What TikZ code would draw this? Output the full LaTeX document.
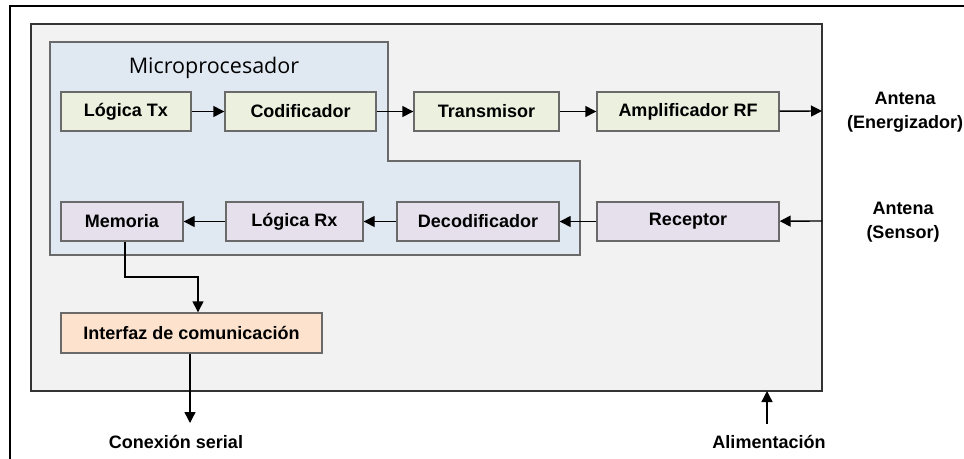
\documentclass[tikz,border=0pt]{standalone}
\usepackage{fontspec}
\setmainfont{Liberation Sans}
\newfontfamily\titlefont{Open Sans}
\usetikzlibrary{arrows.meta}
\definecolor{grayfill}{HTML}{F2F2F2}
\definecolor{bluefill}{HTML}{E0E8F2}
\definecolor{greenfill}{HTML}{EBF1DE}
\definecolor{purplefill}{HTML}{E5E0EC}
\definecolor{peachfill}{HTML}{FDE3CE}
\definecolor{edgegray}{HTML}{6A6A6A}
\tikzset{
  blk/.style={draw=edgegray, line width=1.4pt, minimum height=39pt, inner sep=0pt, font=\fontsize{18}{20}\selectfont\bfseries, text=black},
  txblk/.style={blk, fill=greenfill},
  rxblk/.style={blk, fill=purplefill},
  ifblk/.style={blk, fill=peachfill},
  conn/.style={line width=1.4pt, -{Triangle[length=11pt,width=11pt]}},
  lbl/.style={font=\fontsize{18}{24}\selectfont\bfseries, align=center, inner sep=0pt},
}
\begin{document}
\begin{tikzpicture}[x=1pt,y=-1pt]
\useasboundingbox (0,0) rectangle (964,458);
% outer frame (cropped)
\draw[line width=2.2pt] (10,470) -- (10,6) -- (980,6);
% gray module box
\draw[fill=grayfill, draw=black!80, line width=1.7pt] (31,24) rectangle (822,391);
\coordinate (gR1) at (822,111);
\coordinate (gR2) at (822,221);
\coordinate (gB) at (767,391);
% microprocessor region
\draw[fill=bluefill, draw=edgegray, line width=1.4pt] (50,42) -- (388,42) -- (388,161) -- (580,161) -- (580,255) -- (50,255) -- cycle;
\node[font=\titlefont\fontsize{21.5}{24}\selectfont, inner sep=0pt] (mp) at (214,68) {Microprocesador};
% row 1
\node[txblk, minimum width=130pt] (ltx) at (126,111.5) {Lógica Tx};
\node[txblk, minimum width=151pt] (cod) at (300.5,111.5) {Codificador};
\node[txblk, minimum width=145pt] (tra) at (486.5,111.5) {Transmisor};
\node[txblk, minimum width=182pt] (amp) at (688,111.5) {Amplificador RF};
% row 2
\node[rxblk, minimum width=122pt] (mem) at (122,221.5) {Memoria};
\node[rxblk, minimum width=137pt] (lrx) at (294.5,221.5) {Lógica Rx};
\node[rxblk, minimum width=162pt] (dec) at (478,221.5) {Decodificador};
\node[rxblk, minimum width=182pt] (rec) at (688,221.5) {Receptor};
% interface
\node[ifblk, minimum width=261pt, minimum height=40pt] (ifc) at (191.5,333) {Interfaz de comunicación};
% outside labels
\node[lbl] (ae) at (905,112) {Antena\\(Energizador)};
\node[lbl] (as) at (903,222) {Antena\\(Sensor)};
\node[lbl] (cs) at (176,442) {Conexión serial};
\node[lbl] (al) at (769,442) {Alimentación};
\coordinate (csT) at (190,423);
\coordinate (alT) at (767,424);
% connectors
\draw[conn] (ltx) -- (cod);
\draw[conn] (cod) -- (tra);
\draw[conn] (tra) -- (amp);
\draw[conn] (amp) -- (gR1);
\draw[conn] (gR2) -- (rec);
\draw[conn] (rec) -- (dec);
\draw[conn] (dec) -- (lrx);
\draw[conn] (lrx) -- (mem);
\draw[conn] (mem.south -| 125,0) -- (125,277) -- (198,277) -- (ifc.north -| 198,0);
\draw[conn] (ifc.south -| 190,0) -- (csT);
\draw[conn] (alT) -- (gB);
\end{tikzpicture}
\end{document}
